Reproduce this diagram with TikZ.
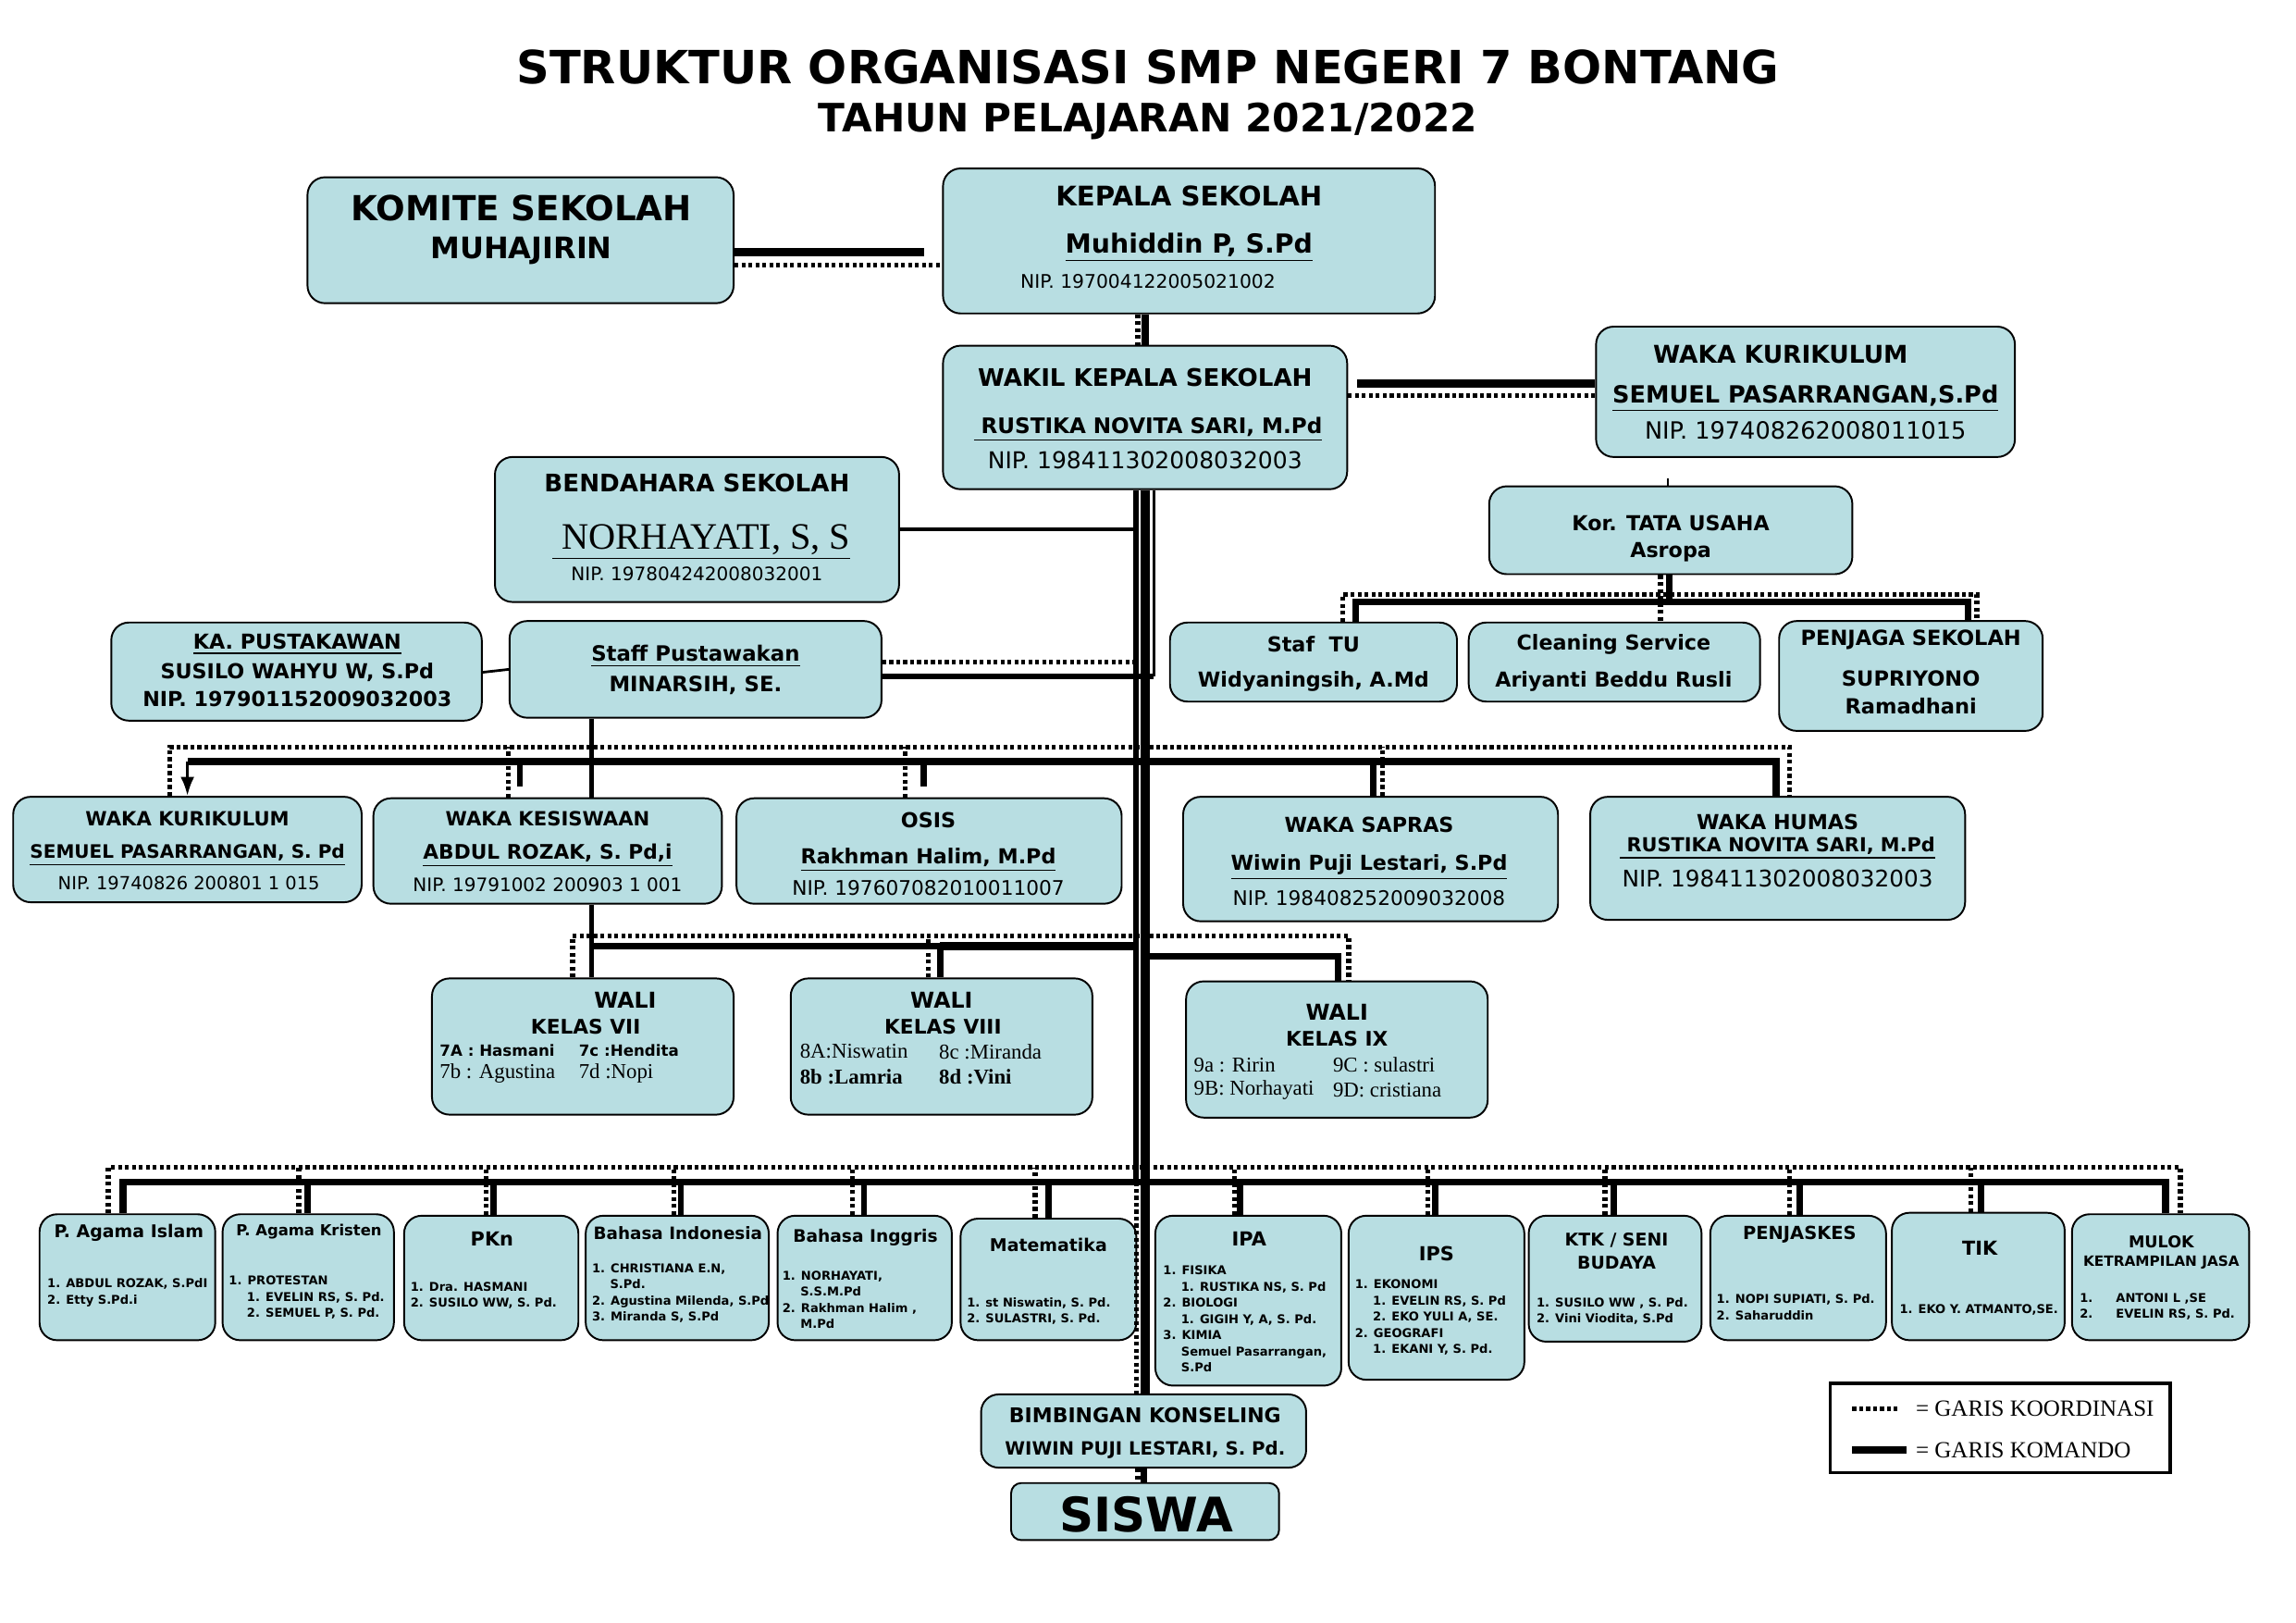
\documentclass[tikz,border=0pt]{standalone}
\usepackage{fontspec}
\setmainfont{DejaVu Sans}
\newfontfamily\serifa{Liberation Serif}
\usepackage{tikz}
\usetikzlibrary{arrows.meta}
\tikzset{>=latex}
\definecolor{kotak}{RGB}{184,222,226}
\tikzstyle{orgunit} = [rounded corners = 2.4mm, draw = black, line width = 0.7pt, fill = kotak, inner sep = 0pt]
\tikzstyle{komando} = [line width = 2.4pt]
\tikzstyle{koord} = [line width = 1.9pt, dash pattern = on 1.5pt off 1.2pt]
\tikzset{
  fb/.style = {inner sep = 0pt, font = \fontsize{#1}{#1}\selectfont\bfseries},
  fr/.style = {inner sep = 0pt, font = \fontsize{#1}{#1}\selectfont},
  ft/.style = {inner sep = 0pt, font = \fontsize{#1}{#1}\selectfont\serifa},
  ftb/.style = {inner sep = 0pt, font = \fontsize{#1}{#1}\selectfont\serifa\bfseries},
  lst/.style = {inner sep = 0pt, anchor = west, align = left, font = \fontsize{4.7}{6.3}\selectfont\bfseries}
}
\newcommand{\unitbox}[5]{\node [orgunit, minimum width = {(#4-#2)*0.2mm}, minimum height = {(#5-#3)*0.2mm}] (#1) at ({(#2+#4)/2}, {(#3+#5)/2}) {};}

\begin{document}
\begin{tikzpicture}[x = 0.2mm, y = -0.2mm]
\fill [white] (0, 0) rectangle (1568, 1108);
\useasboundingbox (0, 0) rectangle (1568, 1108);

\node [fb = 17.8] (judul) at (784, 46) {STRUKTUR ORGANISASI SMP NEGERI 7 BONTANG};
\node [fb = 15.2] (tahun) at (784, 83) {TAHUN PELAJARAN 2021/2022};

% pimpinan
\unitbox{komite}{210}{121}{501}{207}
\node [fb = 13.4] (komiteA) at (356, 142) {KOMITE SEKOLAH};
\node [fb = 11.5] (komiteB) at (356, 171) {MUHAJIRIN};

\unitbox{kepsek}{644}{115}{980}{214}
\node [fb = 10.5] (kepsekA) at (812, 134) {KEPALA SEKOLAH};
\node [fb = 10.2] (kepsekB) at (812, 169) {\underline{Muhiddin P, S.Pd}};
\node [fr = 7.3] (kepsekC) at (784, 192) {NIP. 197004122005021002};

\unitbox{wakasek}{644}{236}{920}{334}
\node [fb = 9.4] (wakasekA) at (782, 258) {WAKIL KEPALA SEKOLAH};
\node [fb = 8.3] (wakasekB) at (784, 293) {\underline{\ RUSTIKA NOVITA SARI, M.Pd}};
\node [fr = 9] (wakasekC) at (782, 314) {NIP. 198411302008032003};

\unitbox{kurikA}{1090}{223}{1376}{312}
\node [fb = 9.5] (kurikAa) at (1216, 242) {WAKA KURIKULUM};
\node [fb = 9.2] (kurikAb) at (1233, 272) {\underline{SEMUEL PASARRANGAN,S.Pd}};
\node [fr = 9.2] (kurikAc) at (1233, 294) {NIP. 197408262008011015};

\unitbox{bendahara}{338}{312}{614}{411}
\node [fb = 9.4] (bendaharaA) at (476, 330) {BENDAHARA SEKOLAH};
\node [ft = 14.5] (bendaharaB) at (479, 370) {\underline{\ NORHAYATI, S, S}};
\node [fr = 7.2] (bendaharaC) at (476, 392) {NIP. 197804242008032001};

\unitbox{kortu}{1017}{332}{1265}{392}
\node [fb = 8] (kortuA) at (1141, 357) {Kor. TATA USAHA};
\node [fb = 8] (kortuB) at (1141, 377) {Asropa};

\unitbox{kapus}{76}{425}{329}{492}
\node [fb = 8] (kapusA) at (203, 440) {\underline{KA. PUSTAKAWAN}};
\node [fb = 8] (kapusB) at (203, 459) {SUSILO WAHYU W, S.Pd};
\node [fb = 8] (kapusC) at (203, 477) {NIP. 197901152009032003};

\unitbox{stafpus}{348}{424}{602}{490}
\node [fb = 8.2] (stafpusA) at (475, 448) {\underline{Staff Pustawakan}};
\node [fb = 8.2] (stafpusB) at (475, 468) {MINARSIH, SE.};

\unitbox{staftu}{799}{425}{995}{479}
\node [fb = 8] (staftuA) at (897, 440) {Staf\ \ TU};
\node [fb = 8] (staftuB) at (897, 465) {Widyaningsih, A.Md};

\unitbox{cleaning}{1003}{425}{1202}{479}
\node [fb = 8] (cleaningA) at (1102, 440) {Cleaning Service};
\node [fb = 8] (cleaningB) at (1102, 465) {Ariyanti Beddu Rusli};

\unitbox{penjaga}{1215}{424}{1395}{499}
\node [fb = 8.1] (penjagaA) at (1305, 437) {PENJAGA SEKOLAH};
\node [fb = 8.1] (penjagaB) at (1305, 463) {SUPRIYONO};
\node [fb = 8.1] (penjagaC) at (1305, 482) {Ramadhani};

% waka
\unitbox{kurikB}{9}{544}{247}{616}
\node [fb = 7.6] (kurikBa) at (128, 559) {WAKA KURIKULUM};
\node [fb = 7.2] (kurikBb) at (128, 584) {\underline{SEMUEL PASARRANGAN, S. Pd}};
\node [fr = 7] (kurikBc) at (129, 603) {NIP. 19740826 200801 1 015};

\unitbox{kesiswaan}{255}{545}{493}{617}
\node [fb = 7.6] (kesiswaanA) at (374, 559) {WAKA KESISWAAN};
\node [fb = 7.8] (kesiswaanB) at (374, 584) {\underline{ABDUL ROZAK, S. Pd,i}};
\node [fr = 7.2] (kesiswaanC) at (374, 604) {NIP. 19791002 200903 1 001};

\unitbox{osis}{503}{545}{766}{617}
\node [fb = 8] (osisA) at (634, 560) {OSIS};
\node [fb = 8] (osisB) at (634, 587) {\underline{Rakhman Halim, M.Pd}};
\node [fr = 7.8] (osisC) at (634, 606) {NIP. 197607082010011007};

\unitbox{sapras}{808}{544}{1064}{629}
\node [fb = 8] (saprasA) at (935, 563) {WAKA SAPRAS};
\node [fb = 8] (saprasB) at (935, 592) {\underline{Wiwin Puji Lestari, S.Pd}};
\node [fr = 7.8] (saprasC) at (935, 613) {NIP. 198408252009032008};

\unitbox{humas}{1086}{544}{1342}{628}
\node [fb = 8] (humasA) at (1214, 561) {WAKA HUMAS};
\node [fb = 7.5] (humasB) at (1214, 579) {\underline{\ RUSTIKA NOVITA SARI, M.Pd}};
\node [fr = 8.9] (humasC) at (1214, 600) {NIP. 198411302008032003};

% wali kelas
\unitbox{waliA}{295}{668}{501}{761}
\node [fb = 8.5] (waliAa) at (427, 683) {WALI};
\node [fb = 7.8] (waliAb) at (400, 701) {KELAS VII};
\node [fb = 6, anchor = west] (waliAc) at (300, 717) {7A : Hasmani};
\node [fb = 6, anchor = west] (waliAd) at (395, 717) {7c :Hendita};
\node [ft = 8.2, anchor = west] (waliAe) at (300, 733) {7b : Agustina};
\node [ft = 8.2, anchor = west] (waliAf) at (395, 733) {7d :Nopi};

\unitbox{waliB}{540}{668}{746}{761}
\node [fb = 8.5] (waliBa) at (643, 683) {WALI};
\node [fb = 7.8] (waliBb) at (644, 701) {KELAS VIII};
\node [ft = 8.2, anchor = west] (waliBc) at (546, 718) {8A:Niswatin};
\node [ft = 8.2, anchor = west] (waliBd) at (641, 718) {8c :Miranda};
\node [ftb = 8.2, anchor = west] (waliBe) at (546, 735) {8b :Lamria};
\node [ftb = 8.2, anchor = west] (waliBf) at (641, 735) {8d :Vini};

\unitbox{waliC}{810}{670}{1016}{763}
\node [fb = 8.5] (waliCa) at (913, 691) {WALI};
\node [fb = 7.8] (waliCb) at (913, 709) {KELAS IX};
\node [ft = 8.2, anchor = west] (waliCc) at (815, 727) {9a : Ririn};
\node [ft = 8.2, anchor = west] (waliCd) at (910, 727) {9C : sulastri};
\node [ft = 8.2, anchor = west] (waliCe) at (815, 744) {9B: Norhayati};
\node [ft = 8.2, anchor = west] (waliCf) at (910, 744) {9D: cristiana};

% guru mapel
\unitbox{agis}{27}{829}{147}{915}
\node [fb = 6.8] (agisA) at (88, 842) {P. Agama Islam};
\node [lst] (agisB) at (32, 882.5) {1. ABDUL ROZAK, S.PdI\\2. Etty S.Pd.i};

\unitbox{agkr}{152}{829}{269}{915}
\node [fb = 5.9] (agkrA) at (211, 841) {P. Agama Kristen};
\node [lst] (agkrB) at (156, 886) {1. PROTESTAN\\\hspace*{7pt}1. EVELIN RS, S. Pd.\\\hspace*{7pt}2. SEMUEL P, S. Pd.};

\unitbox{pkn}{276}{830}{395}{915}
\node [fb = 7.5] (pknA) at (336, 846) {PKn};
\node [lst] (pknB) at (280, 884.5) {1. Dra. HASMANI\\2. SUSILO WW, S. Pd.};

\unitbox{bind}{400}{830}{525}{915}
\node [fb = 6.6] (bindA) at (463, 842) {Bahasa Indonesia};
\node [lst] (bindB) at (404, 883) {1. CHRISTIANA E.N,\\\hspace*{7pt}S.Pd.\\2. Agustina Milenda, S.Pd\\3. Miranda S, S.Pd};

\unitbox{bing}{531}{830}{650}{915}
\node [fb = 6.7] (bingA) at (591, 845) {Bahasa Inggris};
\node [lst] (bingB) at (534, 887.5) {1. NORHAYATI,\\\hspace*{7pt}S.S.M.Pd\\2. Rakhman Halim ,\\\hspace*{7pt}M.Pd};

\unitbox{mtk}{656}{832}{776}{915}
\node [fb = 6.8] (mtkA) at (716, 850) {Matematika};
\node [lst] (mtkB) at (660, 895) {1. st Niswatin, S. Pd.\\2. SULASTRI, S. Pd.};

\unitbox{ipa}{789}{830}{916}{946}
\node [fb = 7.5] (ipaA) at (853, 846) {IPA};
\node [lst] (ipaB) at (794, 900.5) {1. FISIKA\\\hspace*{7pt}1. RUSTIKA NS, S. Pd\\2. BIOLOGI\\\hspace*{7pt}1. GIGIH Y, A, S. Pd.\\3. KIMIA\\\hspace*{7pt}Semuel Pasarrangan,\\\hspace*{7pt}S.Pd};

\unitbox{ips}{921}{830}{1041}{942}
\node [fb = 7.5] (ipsA) at (981, 856) {IPS};
\node [lst] (ipsB) at (925, 899.5) {1. EKONOMI\\\hspace*{7pt}1. EVELIN RS, S. Pd\\\hspace*{7pt}2. EKO YULI A, SE.\\2. GEOGRAFI\\\hspace*{7pt}1. EKANI Y, S. Pd.};

\unitbox{ktk}{1044}{830}{1162}{916}
\node [fb = 6.8] (ktkA) at (1104, 847) {KTK / SENI};
\node [fb = 6.8] (ktkB) at (1104, 862) {BUDAYA};
\node [lst] (ktkC) at (1049, 895) {1. SUSILO WW , S. Pd.\\2. Vini Viodita, S.Pd};

\unitbox{pjk}{1168}{830}{1288}{915}
\node [fb = 7] (pjkA) at (1229, 843) {PENJASKES};
\node [lst] (pjkB) at (1172, 892.5) {1. NOPI SUPIATI, S. Pd.\\2. Saharuddin};

\unitbox{tik}{1292}{828}{1410}{915}
\node [fb = 7.5] (tikA) at (1352, 852) {TIK};
\node [lst] (tikB) at (1297, 894) {1. EKO Y. ATMANTO,SE.};

\unitbox{mulok}{1415}{829}{1536}{915}
\node [fb = 6.3] (mulokA) at (1476, 848) {MULOK};
\node [fb = 5.5] (mulokB) at (1476, 862) {KETRAMPILAN JASA};
\node [lst] (mulokC) at (1420, 892) {1.\hspace*{9pt}ANTONI L ,SE\\2.\hspace*{9pt}EVELIN RS, S. Pd.};

\unitbox{bk}{670}{952}{892}{1002}
\node [fb = 7.9] (bkA) at (782, 966) {BIMBINGAN KONSELING};
\node [fb = 7.1] (bkB) at (782, 990) {WIWIN PUJI LESTARI, S. Pd.};

\node [orgunit, rounded corners = 1.4mm, minimum width = 36.6mm, minimum height = 7.8mm] (siswa) at (782, 1032) {};
\node [fb = 18.5] (siswaA) at (783, 1034) {SISWA};

% keterangan
\node [draw = black, line width = 1.2pt, fill = white, minimum width = 46.4mm, minimum height = 12.2mm, inner sep = 0pt] (legenda) at (1366, 975) {};
\node [ft = 9, anchor = west] (legKoord) at (1308, 962) {= GARIS KOORDINASI};
\node [ft = 9, anchor = west] (legKomando) at (1308, 990) {= GARIS KOMANDO};
\coordinate (legA) at (1265, 962);
\coordinate (legB) at (1265, 990);
\draw [koord, shorten > = 2.4mm] (legA) -- (legKoord.west);
\draw [komando, line width = 3pt, shorten > = 1.2mm] (legB) -- (legKomando.west);

% garis
\coordinate (tkL) at (776, 0);
\coordinate (tkM) at (782, 0);
\coordinate (tkR) at (788, 0);
\coordinate (lvTU) at (0, 406);
\coordinate (lvTUS) at (0, 411);
\coordinate (lvWaka) at (0, 510);
\coordinate (lvWakaS) at (0, 520);
\coordinate (lvWali) at (0, 639);
\coordinate (lvWaliS) at (0, 646);
\coordinate (lvGuru) at (0, 797);
\coordinate (lvGuruS) at (0, 807);

\draw [komando, line width = 3.2pt, shorten > = 2.4mm] (komite.east |- 0,172) -- (kepsek.west |- 0,172);
\draw [koord, line width = 2pt] (komite.east |- 0,181) -- (kepsek.west |- 0,181);
\draw [koord] (kepsek.south -| 777,0) -- (wakasek.north -| 777,0);
\draw [komando, line width = 3pt] (kepsek.south -| tkM) -- (wakasek.north -| tkM);
\draw [komando, line width = 3.2pt, shorten < = 1.2mm] (wakasek.east |- 0,262) -- (kurikA.west |- 0,262);
\draw [koord, line width = 2pt] (wakasek.east |- 0,270) -- (kurikA.west |- 0,270);

\draw [komando, line width = 3.6pt] (wakasek.south -| tkM) -- (bk.north -| tkM);
\draw [komando, line width = 2.2pt] (wakasek.south -| tkL) -- (tkL |- lvGuruS);
\draw [koord] (tkL |- lvGuruS) -- (bk.north -| tkL);
\draw [koord] (bk.south -| 777,0) -- (siswa.north -| 777,0);
\draw [komando] (bk.south -| 781,0) -- (siswa.north -| 781,0);

\draw [line width = 1.5pt] (bendahara.east) -- (bendahara.east -| tkL);
\draw [line width = 1pt] (kapus.east |- 0,459) -- (stafpus.west |- 0,457);
\draw [koord] (stafpus.east |- 0,452) -- (tkL |- 0,452);
\draw [line width = 2.2pt] (stafpus.east |- 0,462) -- (tkR |- 0,462);
\draw [line width = 1pt] (tkR |- 0,462) -- (wakasek.south -| tkR);
\draw [line width = 1.8pt] (stafpus.south -| 404,0) -- (kesiswaan.north -| 404,0);
\draw [line width = 1.8pt] (kesiswaan.south -| 404,0) -- (waliA.north -| 404,0);

\draw [line width = 1pt] (kortu.north -| 1139,0) -- ++(0,-5);
\draw [koord] (staftu.north -| 917,0) |- (1350,0 |- lvTU) -- (penjaga.north -| 1350,0);
\draw [koord] (kortu.south -| 1134,0) -- (cleaning.north -| 1134,0);
\draw [komando] (staftu.north -| 926,0) |- (1344,0 |- lvTUS) -- (penjaga.north -| 1344,0);
\draw [komando] (kortu.south -| 1140,0) -- (1140,0 |- lvTUS);

\draw [koord] (kurikB.north -| 116,0) |- (1222,0 |- lvWaka) -- (humas.north -| 1222,0);
\foreach \xx/\nd in {347/kesiswaan, 618/osis, 944/sapras}
  \draw [koord] (\nd.north -| \xx,0) -- (\xx,0 |- lvWaka);
\draw [komando, line width = 2.8pt] (128,0 |- lvWakaS) -| (humas.north -| 1213,0);
\draw [line width = 1.2pt, -{Latex[length = 2.6mm, width = 1.9mm]}] (128,0 |- lvWakaS) -- (kurikB.north -| 128,0);
\draw [komando] (355,0 |- lvWakaS) -- ++(0,17);
\draw [komando] (631,0 |- lvWakaS) -- ++(0,17);
\draw [komando] (938,0 |- lvWakaS) -- (sapras.north -| 938,0);

\draw [koord] (waliA.north -| 391,0) |- (921,0 |- lvWali) -- (waliC.north -| 921,0);
\draw [koord] (waliB.north -| 634,0) -- (634,0 |- lvWali);
\draw [komando] (404,0 |- lvWaliS) -| (waliB.north -| 642,0);
\draw [komando, line width = 3pt] (642,0 |- lvWaliS) -- (tkL |- lvWaliS);
\draw [komando] (tkM |- 0,653) -| (waliC.north -| 914,0);

\draw [koord] (agis.north -| 74,0) |- (1489,0 |- lvGuru) -- (mulok.north -| 1489,0);
\foreach \xx/\nd in {204/agkr, 332/pkn, 460/bind, 582/bing, 707/mtk, 843/ipa, 975/ips, 1096/ktk, 1222/pjk, 1346/tik}
  \draw [koord] (\nd.north -| \xx,0) -- (\xx,0 |- lvGuru);
\draw [komando, line width = 2.8pt] (agis.north -| 84,0) |- (1479,0 |- lvGuruS) -- (mulok.north -| 1479,0);
\foreach \xx/\nd in {210/agkr, 337/pkn, 465/bind, 590/bing, 716/mtk, 847/ipa, 980/ips, 1102/ktk, 1229/pjk, 1353/tik}
  \draw [komando] (\nd.north -| \xx,0) -- (\xx,0 |- lvGuruS);
\end{tikzpicture}
\end{document}
